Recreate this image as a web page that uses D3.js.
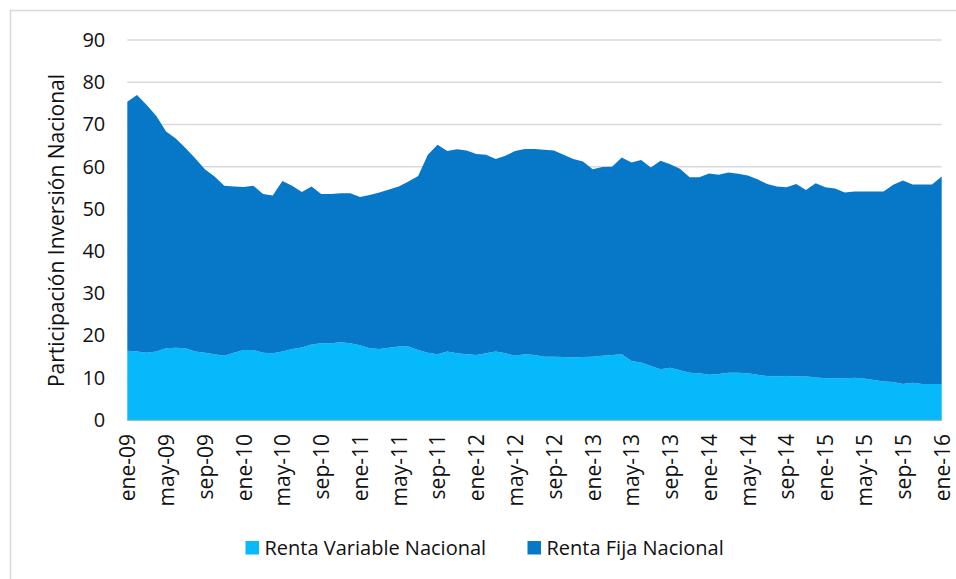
<!DOCTYPE html>
<html><head><meta charset="utf-8">
<script src="https://cdn.jsdelivr.net/npm/d3@7"></script>
<style>body{margin:0;background:#fff}svg{display:block}</style>
</head><body>
<svg id="c" width="956" height="579"></svg>
<script>
const months = [];
const monthNames = ["ene","feb","mar","abr","may","jun","jul","ago","sep","oct","nov","dic"];
for (let y = 9; y <= 16; y++) for (let m = 0; m < 12; m++) { if (y === 16 && m > 0) break; months.push(monthNames[m] + "-" + String(y).padStart(2,"0")); }

const rentaVariable = [16.4,16.2,15.9,16.2,17.0,17.1,17.0,16.2,15.9,15.6,15.2,15.9,16.6,16.6,15.9,15.8,16.2,16.8,17.2,17.9,18.2,18.2,18.4,18.2,17.7,17.0,16.8,17.1,17.4,17.4,16.6,15.9,15.6,16.2,15.8,15.6,15.4,15.8,16.2,15.8,15.2,15.6,15.4,15.0,15.0,14.9,14.8,14.9,15.0,15.2,15.4,15.6,14.0,13.6,12.8,12.0,12.4,11.8,11.2,11.1,10.7,10.9,11.2,11.2,11.1,10.7,10.4,10.3,10.4,10.3,10.3,10.1,9.9,9.9,9.8,10.0,9.8,9.5,9.1,9.0,8.5,8.8,8.5,8.5,8.5];
const rentaFija = [59.0,60.8,58.7,55.8,51.3,49.6,47.4,45.8,43.5,42.1,40.3,39.4,38.6,38.9,37.6,37.4,40.4,38.7,36.8,37.4,35.3,35.3,35.3,35.5,35.1,36.3,37.1,37.5,37.9,39.1,41.2,46.9,49.6,47.5,48.3,48.2,47.6,47.0,45.6,46.8,48.5,48.6,48.8,49.0,48.8,47.9,47.0,46.3,44.4,44.7,44.6,46.6,47.0,48.0,47.0,49.4,48.2,47.7,46.3,46.4,47.7,47.2,47.4,47.1,46.8,46.3,45.5,45.0,44.7,45.6,44.2,46.0,45.2,44.9,44.1,44.1,44.3,44.6,45.0,46.7,48.2,47.0,47.3,47.3,49.2];
const seriesNames = ["Renta Variable Nacional","Renta Fija Nacional"];
const colors = ["#05b9fa","#0778c8"];
const yTicks = [0,10,20,30,40,50,60,70,80,90];
const xTickLabels = months.filter((d,i)=> i % 4 === 0);

const svg = d3.select("#c");
const font = "'Open Sans', sans-serif";
const ink = "#111";

// chart border
svg.append("rect").attr("x",10.5).attr("y",10.5).attr("width",960).attr("height",600)
  .attr("fill","none").attr("stroke","#d9d9d9").attr("stroke-width",1.5);

const x = d3.scalePoint().domain(months).range([127.3, 941.7]);
const y = d3.scaleLinear().domain([0,90]).range([420, 40]);

// grid
svg.append("g").selectAll("line").data(yTicks.slice(1)).join("line")
  .attr("x1",127.3).attr("x2",941.7).attr("y1",d=>y(d)).attr("y2",d=>y(d))
  .attr("stroke","#d9d9d9").attr("stroke-width",1.5);

const table = months.map((m,i)=>({m, rv: rentaVariable[i], rf: rentaFija[i]}));
const stack = d3.stack().keys(["rv","rf"])(table);
const area = d3.area().x(d=>x(d.data.m)).y0(d=>y(d[0])).y1(d=>y(d[1]));
svg.append("g").selectAll("path").data(stack).join("path")
  .attr("d",area).attr("fill",(d,i)=>colors[i]);

// baseline
svg.append("line").attr("x1",127.3).attr("x2",941.7).attr("y1",y(0)).attr("y2",y(0))
  .attr("stroke","#4fb3c4").attr("stroke-width",1.5);

// y axis
const yAxis = d3.axisLeft(y).tickValues(yTicks).tickSize(0).tickPadding(22);
const gy = svg.append("g").attr("transform","translate(127.3,0)").call(yAxis);
gy.select(".domain").remove();
gy.selectAll("text").attr("font-family",font).attr("font-size",20).attr("fill",ink);

// x axis
const xAxis = d3.axisBottom(x).tickValues(xTickLabels).tickSize(0).tickPadding(0);
const gx = svg.append("g").attr("transform","translate(0,420)").call(xAxis);
gx.select(".domain").remove();
gx.selectAll("text").attr("font-family",font).attr("font-size",21).attr("fill",ink)
  .attr("transform","rotate(-90)").attr("text-anchor","end").attr("dy","0.35em").attr("dx","-14").attr("y",0).attr("x",0);

// y title
svg.append("text").attr("transform","translate(64,230.5) rotate(-90)").attr("text-anchor","middle")
  .attr("font-family",font).attr("font-size",21).attr("fill",ink).text("Participación Inversión Nacional");

// legend
const legX = [245.5, 527.5];
const lg = svg.append("g").selectAll("g").data(seriesNames).join("g")
  .attr("transform",(d,i)=>`translate(${legX[i]},541)`);
lg.append("rect").attr("width",13.5).attr("height",13.5).attr("fill",(d,i)=>colors[i]);
lg.append("text").attr("x",19).attr("y",7).attr("dy","0.35em").attr("font-family",font).attr("font-size",20)
  .attr("fill",ink).text(d=>d);
</script>
</body></html>
